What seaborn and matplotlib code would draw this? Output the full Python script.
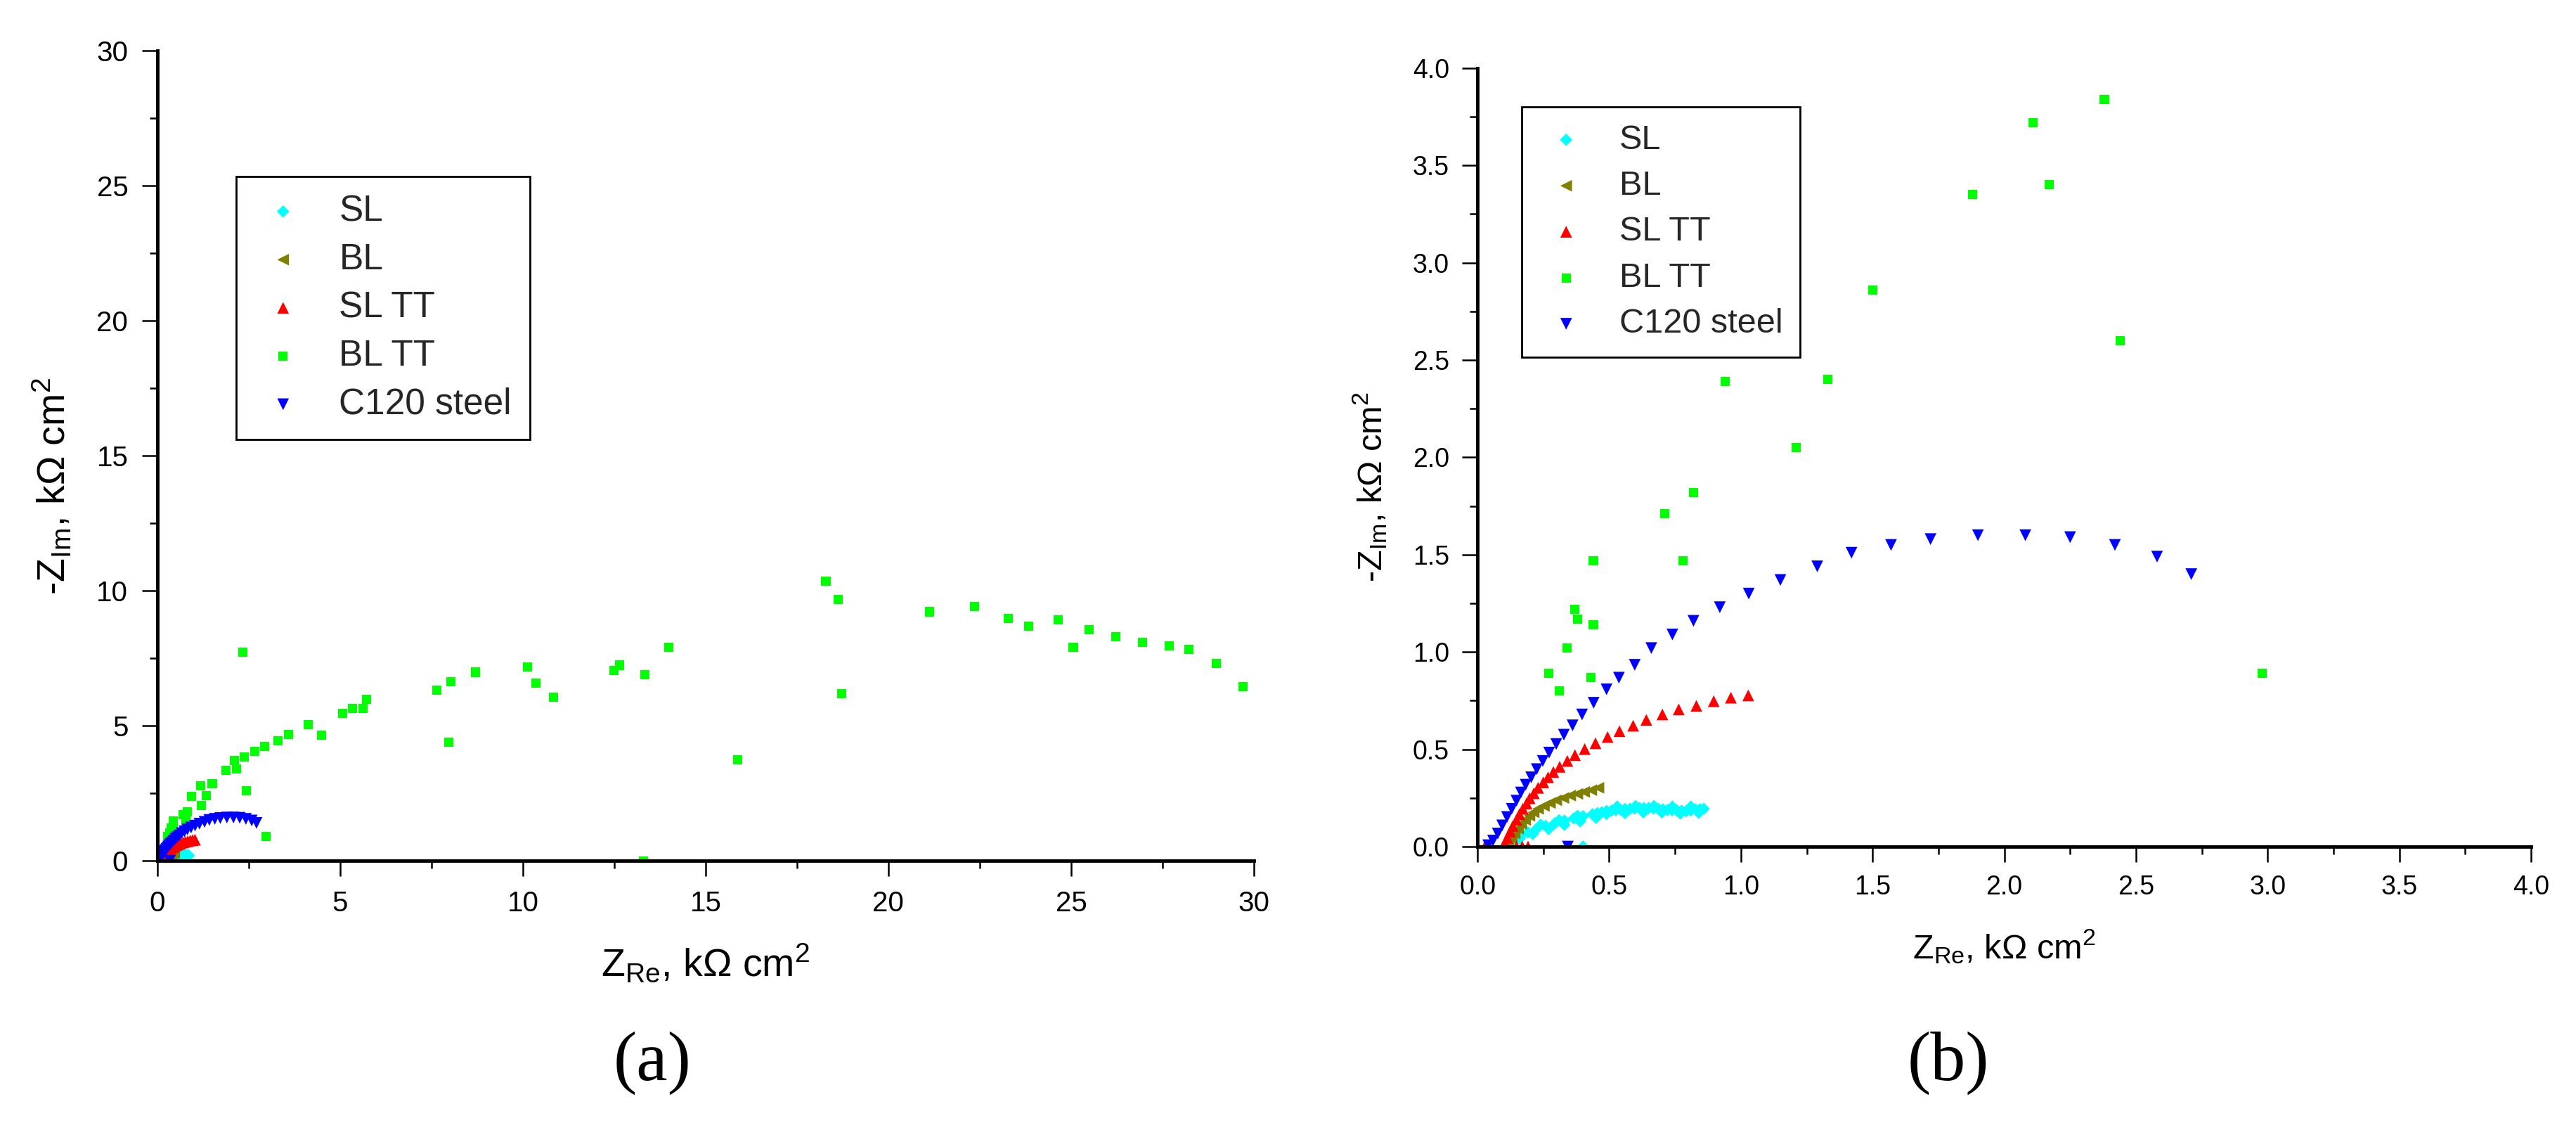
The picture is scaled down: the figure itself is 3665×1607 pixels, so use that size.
import numpy as np
import pandas as pd
import matplotlib
matplotlib.use('Agg')
import matplotlib.pyplot as plt
import seaborn as sns
from matplotlib.ticker import MultipleLocator, FormatStrFormatter

# Nyquist data (Z_Re, -Z_Im in kOhm cm2)
sl_x = [0.125, 0.143, 0.166, 0.192, 0.223, 0.259, 0.294, 0.330, 0.366, 0.401, 0.437, 0.472,
        0.508, 0.543, 0.579, 0.615, 0.650, 0.686, 0.721, 0.757, 0.792, 0.828, 0.859, 0.401,
        0.16, 0.21, 0.27, 0.33, 0.39, 0.45, 0.49, 0.56, 0.63, 0.70, 0.77, 0.84,
        0.24, 0.31, 0.38, 0.53, 0.60, 0.67, 0.74, 0.81,
        0.455, 0.49, 0.525, 0.56, 0.597, 0.632, 0.668, 0.704, 0.739, 0.775, 0.81, 0.845]
sl_y = [0.028, 0.043, 0.057, 0.073, 0.089, 0.106, 0.120, 0.133, 0.145, 0.156, 0.166, 0.176,
        0.184, 0.190, 0.194, 0.198, 0.198, 0.194, 0.188, 0.186, 0.182, 0.190, 0.194, 0.0,
        0.040, 0.065, 0.090, 0.112, 0.130, 0.148, 0.168, 0.172, 0.176, 0.176, 0.170, 0.174,
        0.112, 0.135, 0.158, 0.205, 0.208, 0.208, 0.205, 0.205,
        0.172, 0.182, 0.188, 0.193, 0.196, 0.198, 0.196, 0.191, 0.187, 0.184, 0.186, 0.192]

bl_x = [0.117, 0.130, 0.141, 0.154, 0.166, 0.181, 0.197, 0.213, 0.230, 0.252, 0.275, 0.299,
        0.326, 0.352, 0.379, 0.405, 0.432, 0.459]
bl_y = [0.014, 0.044, 0.068, 0.092, 0.116, 0.137, 0.158, 0.176, 0.194, 0.209, 0.224, 0.238,
        0.250, 0.262, 0.271, 0.281, 0.290, 0.302]

sl_tt_x = [0.028, 0.103, 0.113, 0.124, 0.134, 0.148, 0.159, 0.172, 0.186, 0.198, 0.214, 0.230,
           0.250, 0.268, 0.288, 0.312, 0.341, 0.370, 0.407, 0.448, 0.494, 0.539, 0.591, 0.641,
           0.702, 0.764, 0.831, 0.897, 0.962, 1.028, 0.148, 0.170, 0.192]
sl_tt_y = [0.0, 0.017, 0.046, 0.077, 0.106, 0.137, 0.166, 0.194, 0.221, 0.248, 0.274, 0.302,
           0.330, 0.356, 0.383, 0.410, 0.440, 0.470, 0.501, 0.531, 0.563, 0.593, 0.621, 0.651,
           0.679, 0.705, 0.723, 0.747, 0.765, 0.777, 0.0, 0.0, 0.0]

bl_tt_x = [0.27, 0.31, 0.43, 0.34, 0.38, 0.37, 0.44, 0.44, 0.78, 0.71, 0.82, 0.94, 1.21, 1.33,
           1.19, 1.50, 1.88, 2.17, 2.11, 2.38, 2.44, 2.98, 2.67, 2.94, 3.30, 3.59, 4.13, 4.49,
           2.34, 5.07, 5.34, 5.62, 5.73, 7.98, 7.64, 8.03, 8.71, 10.13, 10.35, 10.83, 12.50,
           12.64, 13.33, 13.99, 15.88, 13.30, 18.29, 18.62, 18.73, 21.13, 22.36, 23.28, 23.83,
           24.65, 25.06, 25.50, 26.23, 26.95, 27.68, 28.23, 28.98, 29.71]
bl_tt_y = [0.89, 0.80, 0.87, 1.02, 1.17, 1.22, 1.14, 1.47, 1.47, 1.71, 1.82, 2.39, 2.05, 2.40,
           2.77, 2.86, 3.35, 3.40, 3.72, 3.84, 2.60, 0.89, 4.05, 4.24, 4.45, 4.67, 5.04, 4.64,
           7.73, 5.45, 5.65, 5.65, 5.98, 4.39, 6.31, 6.64, 6.98, 7.17, 6.58, 6.05, 7.05,
           7.24, 6.90, 7.90, 3.73, 0.00, 10.35, 9.68, 6.18, 9.22, 9.42, 8.96, 8.69,
           8.92, 7.90, 8.56, 8.29, 8.09, 7.96, 7.83, 7.31, 6.44]

c120_x = [0.041, 0.059, 0.077, 0.094, 0.112, 0.130, 0.148, 0.165, 0.183, 0.204, 0.225, 0.248,
          0.272, 0.299, 0.328, 0.361, 0.397, 0.441, 0.490, 0.537, 0.597, 0.66, 0.74, 0.82,
          0.92, 1.03, 1.15, 1.29, 1.42, 1.57, 1.72, 1.90, 2.08, 2.25, 2.42, 2.58, 2.71, 0.343]
c120_y = [0.007, 0.031, 0.067, 0.109, 0.152, 0.194, 0.236, 0.278, 0.318, 0.356, 0.398, 0.440,
          0.483, 0.527, 0.575, 0.623, 0.679, 0.739, 0.808, 0.868, 0.934, 1.02, 1.09, 1.16,
          1.23, 1.30, 1.37, 1.44, 1.51, 1.55, 1.58, 1.60, 1.60, 1.59, 1.55, 1.49, 1.40, 0.0]

names = ['SL', 'BL', 'SL TT', 'BL TT', 'C120 steel']
colors = ['#00FFFF', '#808000', '#FF0000', '#00FF00', '#0000FF']
markers = ['D', '<', '^', 's', 'v']
msizes = [9.0, 12, 12, 9.4, 12]

series = [(sl_x, sl_y), (bl_x, bl_y), (sl_tt_x, sl_tt_y), (bl_tt_x, bl_tt_y), (c120_x, c120_y)]

sns.set_theme(style='white')
plt.rcParams['font.family'] = ['Liberation Sans', 'DejaVu Sans']
plt.rcParams['mathtext.fontset'] = 'custom'
plt.rcParams['mathtext.rm'] = 'Liberation Sans'
plt.rcParams['mathtext.it'] = 'Liberation Sans:italic'

fig = plt.figure(figsize=(36.66, 16.07), dpi=100)
fig.patch.set_facecolor('white')

ax_a = fig.add_axes([0.0611, 0.2383, 0.4255, 0.7169])
ax_b = fig.add_axes([0.5734, 0.2508, 0.4089, 0.6889])

panels = [
    # ax, limit, major, minor, fmt, tick size, pad, label size, legend anchor, legend font,
    # label spacing, caption, pos
    (ax_a, 30, 5, 2.5, '%d', 29, 14, 40, (0.0718, 0.845), 37, 0.38, '(a)', (0.2531, 0.0591)),
    (ax_b, 4.0, 0.5, 0.25, '%.1f', 27, 13, 35, (0.042, 0.950), 35, 0.42, '(b)', (0.7561, 0.0591)),
]

for ax, lim, major, minor, fmt, tsize, tpad, lbsize, anchor, lsize, lspace, cap, cpos in panels:
    for (xs, ys), name, col, mk, ms in zip(series, names, colors, markers, msizes):
        sns.scatterplot(x=xs, y=ys, ax=ax, color=col, marker=mk, s=ms ** 2,
                        linewidth=0, edgecolor='none', label=name, legend=False)

    ax.set_xlim(0, lim)
    ax.set_ylim(0, lim)
    ax.xaxis.set_major_locator(MultipleLocator(major))
    ax.yaxis.set_major_locator(MultipleLocator(major))
    ax.xaxis.set_minor_locator(MultipleLocator(minor))
    ax.yaxis.set_minor_locator(MultipleLocator(minor))
    ax.xaxis.set_major_formatter(FormatStrFormatter(fmt))
    ax.yaxis.set_major_formatter(FormatStrFormatter(fmt))

    sns.despine(ax=ax)
    for sp in ['left', 'bottom']:
        ax.spines[sp].set_linewidth(3.5)
        ax.spines[sp].set_color('black')
    ax.tick_params(which='major', direction='out', length=16, width=1.8, color='black',
                   labelsize=tsize, pad=tpad, bottom=True, left=True, labelcolor='black')
    ax.tick_params(which='minor', direction='out', length=8, width=1.8, color='black',
                   bottom=True, left=True)
    ax.grid(False)

    ax.set_xlabel(r'Z$_{\mathrm{Re}}$, kΩ cm$^{2}$', fontsize=lbsize, color='black')
    ax.set_ylabel(r'-Z$_{\mathrm{Im}}$, kΩ cm$^{2}$', fontsize=lbsize, color='black')
    ax.xaxis.label.set_va('baseline')
    ax.yaxis.label.set_va('baseline')

    handles, labels = ax.get_legend_handles_labels()
    leg = ax.legend(handles, labels, loc='upper left', bbox_to_anchor=anchor,
                    borderaxespad=0, frameon=True, fancybox=False, framealpha=1,
                    fontsize=lsize, borderpad=0.5, handlelength=1.6, handletextpad=0.75,
                    labelspacing=lspace, scatterpoints=1)
    leg.get_frame().set_edgecolor('black')
    leg.get_frame().set_linewidth(2)

    fig.text(cpos[0], cpos[1], cap, fontsize=72, family='Liberation Serif',
             ha='center', va='center', color='black')

ax_a.xaxis.set_label_coords(0.5, -0.143)
ax_a.yaxis.set_label_coords(-0.084, 0.462)
ax_b.xaxis.set_label_coords(0.5, -0.1436)
ax_b.yaxis.set_label_coords(-0.0907, 0.4625)

fig.savefig('out.png', dpi=100, facecolor='white')
